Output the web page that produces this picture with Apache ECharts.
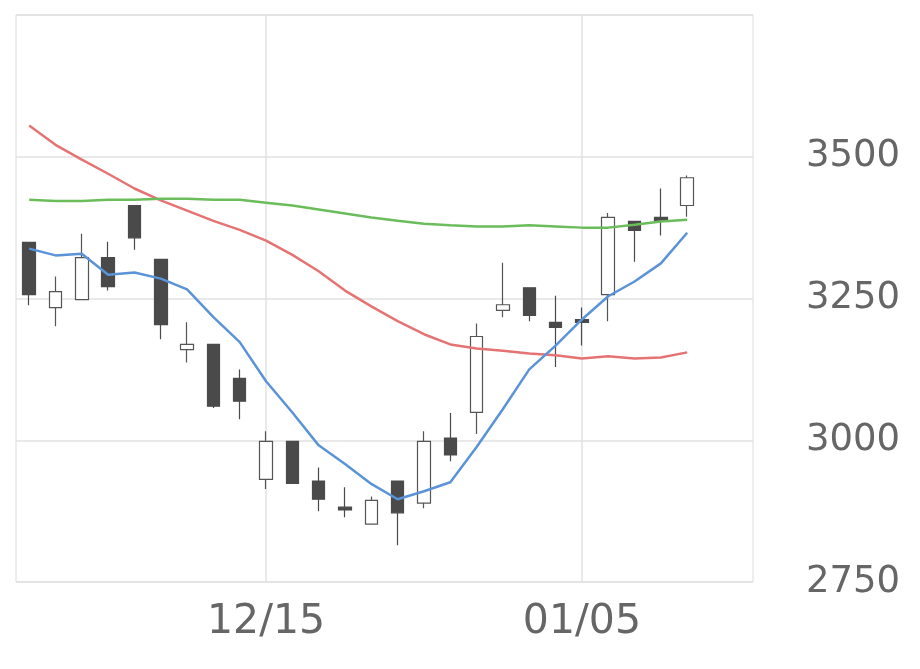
<!DOCTYPE html>
<html><head><meta charset="utf-8">
<script src="https://cdn.jsdelivr.net/npm/echarts@6/dist/echarts.min.js"></script>
<style>html,body{margin:0;padding:0;background:#fff}#c{width:920px;height:669px}</style>
</head><body><div id="c"></div>
<script>
const dates = ['12/02','12/03','12/04','12/05','12/08','12/09','12/10','12/11','12/12','12/15','12/16','12/17','12/18','12/19','12/22','12/23','12/24','12/25','12/26','12/29','12/30','01/05','01/06','01/07','01/08','01/09','01/12','01/13'];
// [open, close, low, high]
const candles = [
[3349,3257,3238,3349],[3234,3262,3201,3289],[3248,3322,3248,3364],[3322,3271,3264,3350],
[3414,3357,3336,3414],[3319,3204,3178,3319],[3160,3169,3137,3208],[3169,3060,3057,3169],
[3109,3069,3037,3125],[2931,2998,2914,3016],[2998,2924,2924,2998],[2928,2896,2875,2952],
[2882,2877,2864,2917],[2852,2894,2852,2901],[2928,2872,2815,2928],[2889,2998,2880,3016],
[3004,2974,2963,3048],[3049,3183,3011,3206],[3229,3239,3217,3313],[3269,3220,3210,3269],
[3208,3199,3129,3255],[3213,3208,3167,3234],[3257,3393,3210,3401],[3386,3370,3315,3386],
[3393,3387,3361,3444],[3414,3463,3394,3467]];
const maShort = [3338,3326,3329,3292,3296,3285,3266,3217,3173,3104,3049,2991,2958,2923,2896,2910,2926,2988,3055,3125,3167,3213,3254,3280,3312,3366];
const maMid = [3555,3521,3495,3470,3444,3423,3405,3387,3371,3352,3327,3298,3264,3236,3210,3187,3169,3162,3158,3153,3150,3144,3148,3144,3146,3155];
const maLong = [3424,3422,3422,3424,3424,3426,3426,3424,3424,3419,3414,3407,3400,3393,3387,3382,3379,3377,3377,3379,3377,3375,3375,3380,3386,3389];
const yTicks = [2750,3000,3250,3500];
const shownDates = ['12/15','01/05'];

const chart = echarts.init(document.getElementById('c'));
const line = (d,c)=>({type:'line',data:d,symbol:'none',smooth:false,lineStyle:{color:c,width:2.5},z:3});
chart.setOption({
  animation:false,
  grid:{left:16,right:167,top:15,bottom:87,show:true,borderColor:'#dcdcdc',borderWidth:1},
  xAxis:{type:'category',data:dates,boundaryGap:true,
    axisLine:{show:false},axisTick:{show:false},splitLine:{show:false},
    axisLabel:{interval:(i,v)=>shownDates.includes(v),color:'#666',fontSize:41,fontFamily:'DejaVu Sans',margin:20}},
  yAxis:{type:'value',position:'right',min:2750,max:3750,interval:250,
    axisLine:{show:false},axisTick:{show:false},
    splitLine:{lineStyle:{color:'#e2e2e2',width:1.5}},
    axisLabel:{formatter:v=>yTicks.includes(v)?String(v):'',color:'#666',fontSize:37,fontFamily:'DejaVu Sans',margin:53}},
  series:[
    {type:'candlestick',data:candles,barWidth:13,
     itemStyle:{color:'#fff',color0:'#4a4a4a',borderColor:'#555',borderColor0:'#4a4a4a',borderWidth:1.2},
     markLine:{silent:true,symbol:'none',label:{show:false},lineStyle:{color:'#e2e2e2',type:'solid',width:1.5},
       data:shownDates.map(d=>({xAxis:d})),z:1},z:2},
    line(maMid,'#e57373'),
    line(maLong,'#6bbd5b'),
    line(maShort,'#5b93d8')
  ]
});
</script></body></html>
